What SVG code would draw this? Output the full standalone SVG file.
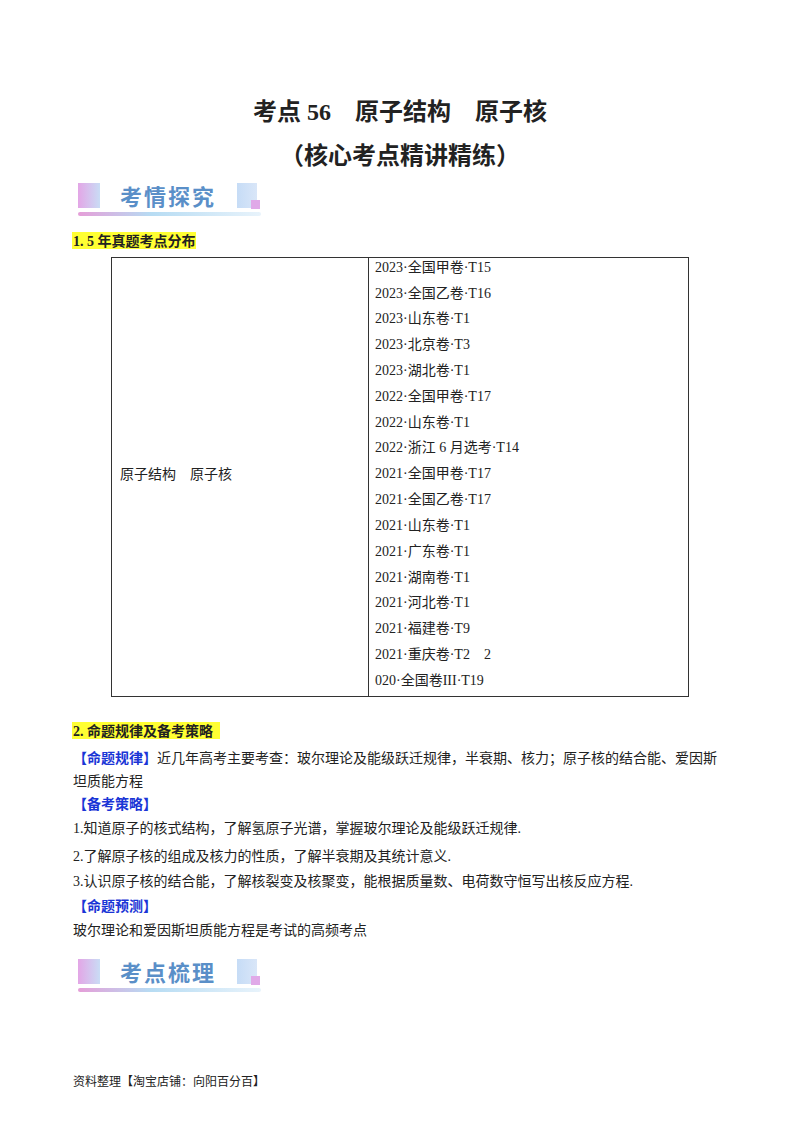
<svg xmlns="http://www.w3.org/2000/svg" width="800" height="1132" viewBox="0 0 800 1132">
<defs>
<style>
text{font-family:"Liberation Serif","Noto Sans CJK SC",serif;fill:#222}
.t{font-size:14px}
.b{font-weight:bold}
.blue{fill:#1a35d6;font-weight:bold;font-size:14px}
.ban{font-family:"Noto Sans CJK SC",sans-serif;font-weight:bold;font-size:22px;fill:#5a8fc8;letter-spacing:2px}
</style>
<linearGradient id="g1" x1="0" x2="1"><stop offset="0" stop-color="#e3a6e6"/><stop offset="1" stop-color="#c9dcf5"/></linearGradient>
<linearGradient id="g2" x1="0" x2="1"><stop offset="0" stop-color="#e59ed8"/><stop offset="0.4" stop-color="#b7dcf3"/><stop offset="1" stop-color="#e8f3fb"/></linearGradient>
<linearGradient id="g3" x1="0" x2="1"><stop offset="0" stop-color="#c6dcf6"/><stop offset="1" stop-color="#d9e6f8"/></linearGradient>
</defs>
<rect width="800" height="1132" fill="#fff"/>
<text x="400" y="120" text-anchor="middle" class="b" font-size="24">考点 56　原子结构　原子核</text>
<text x="400" y="164" text-anchor="middle" class="b" font-size="24">（核心考点精讲精练）</text>
<g id="banner1">
<rect x="78" y="183" width="22" height="25" fill="url(#g1)"/>
<rect x="237" y="183" width="20" height="25" fill="url(#g3)"/>
<rect x="251" y="200" width="9" height="9" fill="#e0a9e8"/>
<rect x="78" y="212" width="183" height="4" rx="2" fill="url(#g2)"/>
<text x="120" y="205" class="ban">考情探究</text>
</g>
<rect x="72" y="232" width="124" height="17" fill="#ffff33"/>
<text x="73" y="246" class="b t">1. 5 年真题考点分布</text>
<g id="table" fill="none" stroke="#333" stroke-width="1">
<rect x="111.5" y="257.5" width="577" height="439"/>
<line x1="368.5" y1="257.5" x2="368.5" y2="696.5"/>
</g>
<text x="120" y="479" class="t">原子结构　原子核</text>
<g class="t">
<text x="375" y="272" class="t">2023·全国甲卷·T15</text>
<text x="375" y="298" class="t">2023·全国乙卷·T16</text>
<text x="375" y="323" class="t">2023·山东卷·T1</text>
<text x="375" y="349" class="t">2023·北京卷·T3</text>
<text x="375" y="375" class="t">2023·湖北卷·T1</text>
<text x="375" y="401" class="t">2022·全国甲卷·T17</text>
<text x="375" y="427" class="t">2022·山东卷·T1</text>
<text x="375" y="452" class="t">2022·浙江 6 月选考·T14</text>
<text x="375" y="478" class="t">2021·全国甲卷·T17</text>
<text x="375" y="504" class="t">2021·全国乙卷·T17</text>
<text x="375" y="530" class="t">2021·山东卷·T1</text>
<text x="375" y="556" class="t">2021·广东卷·T1</text>
<text x="375" y="582" class="t">2021·湖南卷·T1</text>
<text x="375" y="607" class="t">2021·河北卷·T1</text>
<text x="375" y="633" class="t">2021·福建卷·T9</text>
<text x="375" y="659" class="t">2021·重庆卷·T2　2</text>
<text x="375" y="685" class="t">020·全国卷III·T19</text>
</g>
<rect x="72" y="722" width="148" height="17" fill="#ffff33"/>
<text x="73" y="736" class="b t">2.  命题规律及备考策略</text>
<text x="73" y="763" class="t"><tspan class="blue">【命题规律】</tspan>近几年高考主要考查：玻尔理论及能级跃迁规律，半衰期、核力；原子核的结合能、爱因斯</text>
<text x="73" y="786" class="t">坦质能方程</text>
<text x="73" y="809" class="blue">【备考策略】</text>
<text x="73" y="833" class="t">1.知道原子的核式结构，了解氢原子光谱，掌握玻尔理论及能级跃迁规律.</text>
<text x="73" y="861" class="t">2.了解原子核的组成及核力的性质，了解半衰期及其统计意义.</text>
<text x="73" y="886" class="t">3.认识原子核的结合能，了解核裂变及核聚变，能根据质量数、电荷数守恒写出核反应方程.</text>
<text x="73" y="911" class="blue">【命题预测】</text>
<text x="73" y="935" class="t">玻尔理论和爱因斯坦质能方程是考试的高频考点</text>
<g id="banner2">
<rect x="78" y="959" width="22" height="25" fill="url(#g1)"/>
<rect x="237" y="959" width="20" height="25" fill="url(#g3)"/>
<rect x="251" y="976" width="9" height="9" fill="#e0a9e8"/>
<rect x="78" y="988" width="183" height="4" rx="2" fill="url(#g2)"/>
<text x="120" y="981" class="ban">考点梳理</text>
</g>
<text x="73" y="1086" font-size="12">资料整理【淘宝店铺：向阳百分百】</text>
</svg>
